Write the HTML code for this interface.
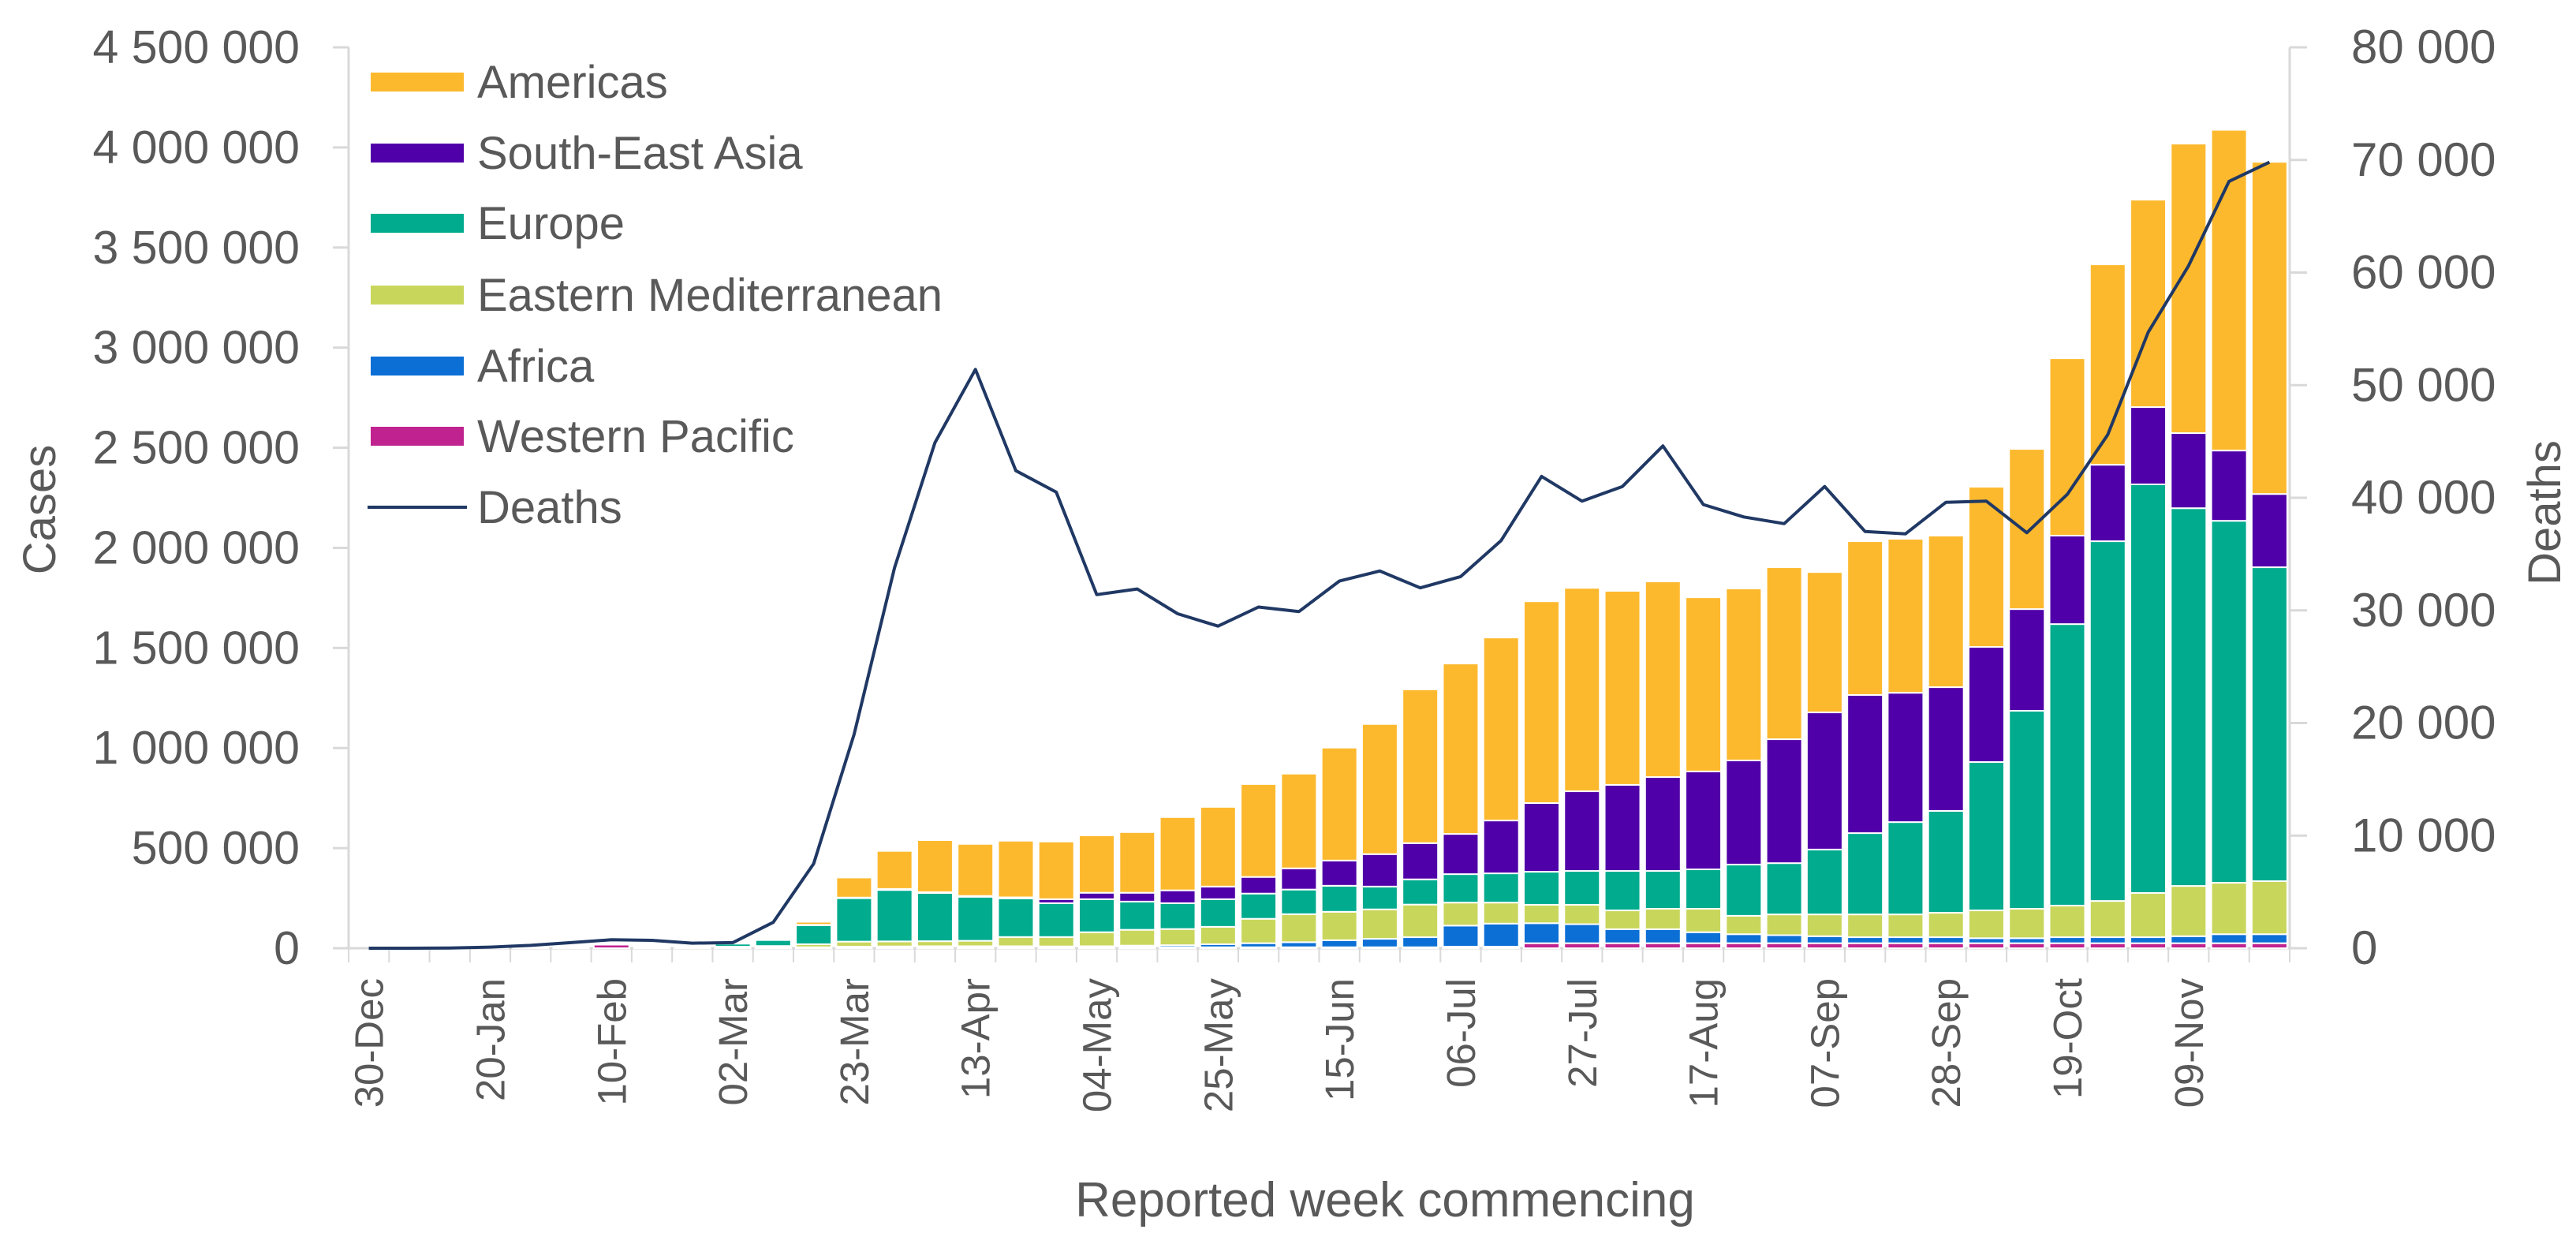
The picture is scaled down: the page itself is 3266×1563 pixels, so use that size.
<!DOCTYPE html>
<html><head><meta charset="utf-8"><style>
html,body{margin:0;padding:0;background:#fff;}
svg{display:block;font-family:"Liberation Sans",sans-serif;}
</style></head><body>
<svg id="chart" width="3266" height="1563" viewBox="0 0 3266 1563" xmlns="http://www.w3.org/2000/svg">
<g id="axes"></g>
<g id="bars"></g>
<g id="line"></g>
<g id="legend"></g>
<text x="0" y="0" transform="translate(70,646) rotate(-90)" text-anchor="middle" font-size="58" fill="#595959">Cases</text>
<text x="0" y="0" transform="translate(3246,650) rotate(-90)" text-anchor="middle" font-size="58" fill="#595959">Deaths</text>
<text x="1756" y="1542" text-anchor="middle" font-size="62" fill="#595959">Reported week commencing</text>
</svg>
<script>
const weeks = ["30-Dec","06-Jan","13-Jan","20-Jan","27-Jan","03-Feb","10-Feb","17-Feb","24-Feb","02-Mar","09-Mar","16-Mar","23-Mar","30-Mar","06-Apr","13-Apr","20-Apr","27-Apr","04-May","11-May","18-May","25-May","01-Jun","08-Jun","15-Jun","22-Jun","29-Jun","06-Jul","13-Jul","20-Jul","27-Jul","03-Aug","10-Aug","17-Aug","24-Aug","31-Aug","07-Sep","14-Sep","21-Sep","28-Sep","05-Oct","12-Oct","19-Oct","26-Oct","02-Nov","09-Nov","16-Nov","23-Nov"];
// values in thousands of cases
const westernPacific = [0,0,0,1,2,4,18,3,2,2,2,3,5,5,5,5,5,5,5,5,5,5,5,5,5,5,5,8,8,25,25,25,25,25,25,25,25,25,25,25,25,25,25,25,25,25,25,25];
const africa = [0,0,0,0,0,0,0,0,0,0,1,2,3,4,5,5,5,4,5,8,10,15,20,25,35,42,50,105,115,100,95,70,70,55,45,40,35,30,30,30,25,25,30,30,30,35,45,45];
const easternMed = [0,0,0,0,0,0,0,1,3,6,8,15,25,25,25,27,46,47,70,79,81,87,122,140,142,147,163,115,105,92,97,94,102,117,92,104,109,114,114,122,139,147,158,181,221,251,257,265];
const europe = [0,0,0,0,0,0,1,2,5,15,30,95,217,257,241,220,193,169,165,141,129,138,126,123,130,114,126,142,146,165,169,197,189,197,256,256,324,406,461,509,741,989,1406,1797,2041,1887,1808,1568];
const southEastAsia = [0,0,0,0,0,0,0,0,0,0,1,2,3,5,4,4,5,20,32,44,64,63,83,106,126,162,181,201,264,343,398,430,469,489,520,619,685,690,646,618,575,508,442,382,386,375,351,366];
const americas = [0,0,0,0,0,0,0,0,1,2,5,15,100,190,260,260,283,288,287,303,366,398,464,473,564,650,768,851,914,1008,1016,969,977,870,859,859,701,768,769,757,800,800,886,1001,1036,1446,1602,1659];
const deaths = [0,0,20,100,250,500,750,700,450,500,2300,7500,19000,33800,44900,51400,42400,40500,31400,31900,29700,28600,30300,29900,32600,33500,32000,33000,36200,41900,39700,41000,44600,39400,38300,37700,41000,37000,36800,39600,39700,36900,40300,45600,54700,60600,68100,69800];
const leftTicks = ["0","500 000","1 000 000","1 500 000","2 000 000","2 500 000","3 000 000","3 500 000","4 000 000","4 500 000"];
const rightTicks = ["0","10 000","20 000","30 000","40 000","50 000","60 000","70 000","80 000"];

const NS="http://www.w3.org/2000/svg";
const X0=442, X1=2903, Y0=1202, YT=60;
const band=(X1-X0)/weeks.length;
const barW=45;
const yCases=v=>Y0-(v/4500)*(Y0-YT);
const yDeaths=v=>Y0-(v/80000)*(Y0-YT);
const xC=i=>X0+band*(i+0.5);
function mk(tag,attrs,parent){const e=document.createElementNS(NS,tag);for(const k in attrs)e.setAttribute(k,attrs[k]);parent.appendChild(e);return e;}

const axes=document.getElementById('axes');
let a=mk('line',{x1:X0,y1:YT,x2:X0,y2:Y0,stroke:'#d9d9d9','stroke-width':3},axes);


a=mk('line',{x1:X1,y1:YT,x2:X1,y2:Y0,stroke:'#d9d9d9','stroke-width':3},axes);


a=mk('line',{x1:X0,y1:Y0,x2:X1,y2:Y0,stroke:'#d9d9d9','stroke-width':3},axes);


leftTicks.forEach((t,k)=>{
  const y=yCases(k*500);
  const tk=mk('line',{x1:X0-20,y1:y,x2:X0,y2:y,stroke:'#d9d9d9','stroke-width':3},axes);
  
  
  const tx=mk('text',{x:380,y:y+20,'text-anchor':'end','font-size':59,fill:'#595959'},axes);
  tx.textContent=t;
  
  
});
rightTicks.forEach((t,k)=>{
  const y=yDeaths(k*10000);
  const tk=mk('line',{x1:X1,y1:y,x2:X1+22,y2:y,stroke:'#d9d9d9','stroke-width':3},axes);
  
  
  const tx=mk('text',{x:2981,y:y+20,'text-anchor':'start','font-size':60,fill:'#595959'},axes);
  tx.textContent=t;
  
  
});
for(let i=0;i<=weeks.length;i++){
  const x=X0+band*i;
  const tk=mk('line',{x1:x,y1:Y0,x2:x,y2:Y0+18,stroke:'#d9d9d9','stroke-width':2},axes);
  
  
}
weeks.forEach((w,i)=>{
  if(i%3!==0)return;
  const tx=mk('text',{x:0,y:0,transform:`translate(${xC(i)+18},1240) rotate(-90)`,'text-anchor':'end','font-size':51,fill:'#595959'},axes);
  tx.textContent=w;
  
  
});

const series=[
 {name:'western-pacific',vals:westernPacific,color:'#c0238f'},
 {name:'africa',vals:africa,color:'#0b6fd6'},
 {name:'eastern-mediterranean',vals:easternMed,color:'#c9d65c'},
 {name:'europe',vals:europe,color:'#00ab8e'},
 {name:'south-east-asia',vals:southEastAsia,color:'#5000a8'},
 {name:'americas',vals:americas,color:'#fdb92e'}
];
const bars=document.getElementById('bars');
weeks.forEach((w,i)=>{
  let cum=0;
  series.forEach(s=>{
    const v=s.vals[i];
    if(v<=0)return;
    const yt=yCases(cum+v), yb=yCases(cum);
    cum+=v;
    const r=mk('rect',{x:xC(i)-barW/2,y:yt,width:barW,height:Math.max(0,yb-yt),fill:s.color,stroke:'#ffffff','stroke-width':2},bars);
    
    
  });
});

const lineG=document.getElementById('line');
const pts=deaths.map((d,i)=>xC(i).toFixed(1)+','+yDeaths(d).toFixed(1)).join(' ');
const pl=mk('polyline',{points:pts,fill:'none',stroke:'#203864','stroke-width':4,'stroke-linejoin':'round'},lineG);



const legendItems=[['Americas','#fdb92e'],['South-East Asia','#5000a8'],['Europe','#00ab8e'],['Eastern Mediterranean','#c9d65c'],['Africa','#0b6fd6'],['Western Pacific','#c0238f']];
const leg=document.getElementById('legend');
const ly=[104,194,283,374,464,553,643];
legendItems.forEach((it,k)=>{
  const r=mk('rect',{x:470,y:ly[k]-12,width:118,height:24,fill:it[1]},leg);
  
  
  const t=mk('text',{x:605,y:ly[k]+20,'font-size':58,fill:'#595959'},leg);
  t.textContent=it[0];
  
  
});
const dl=mk('line',{x1:466,y1:643,x2:592,y2:643,stroke:'#203864','stroke-width':4},leg);


const dt=mk('text',{x:605,y:663,'font-size':58,fill:'#595959'},leg);
dt.textContent='Deaths';


</script>
</body></html>
